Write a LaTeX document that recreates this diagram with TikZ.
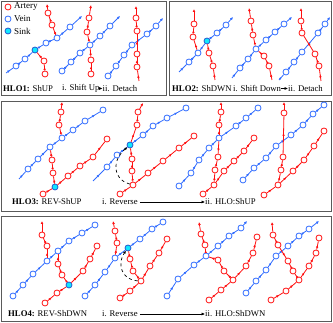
\documentclass[tikz,border=0pt]{standalone}
\usepackage{fontspec}
\setmainfont{Liberation Serif}
\usetikzlibrary{arrows.meta,positioning,decorations.markings}
\definecolor{artred}{HTML}{FF1010}
\definecolor{veinblue}{HTML}{2F6BFF}
\definecolor{sinkcyan}{HTML}{10E8FF}
\definecolor{framegray}{HTML}{5A5A5A}
\tikzset{
  an/.style={circle,draw=artred,fill=white,line width=0.8pt,inner sep=0pt,minimum size=6pt},
  vn/.style={an,draw=veinblue},
  sk/.style={an,draw=veinblue!80!black,fill=sinkcyan},
  midarrow/.style={postaction={decorate},decoration={markings,mark=at position 0.55 with {\arrow{Latex[length=2.6pt,width=2.6pt]}}}},
  alink/.style={artred,line width=0.8pt,midarrow},
  vlink/.style={veinblue,line width=0.8pt,midarrow},
  atip/.style={artred,line width=0.8pt,-{Latex[length=3pt,width=2.8pt]}},
  vtip/.style={veinblue,line width=0.8pt,-{Latex[length=3pt,width=2.8pt]}},
  revarrow/.style={black,dashed,line width=0.7pt,-{Latex[length=3pt,width=2.8pt]}},
  steparrow/.style={black,line width=0.9pt,-{Latex[length=3.5pt,width=3.2pt]}},
  lbl/.style={font=\fontsize{8.7}{10}\selectfont,inner sep=0pt,anchor=west},
  panelbox/.style={draw=framegray,line width=0.8pt}
}
% place a row of vessel nodes and join them in order
\newcommand\chain[3]{%
  \foreach \x/\y/\st [count=\k] in {#3} {\node[\st] (#1\k) at (\x,\y) {};}%
  \foreach \x/\y/\st [count=\k,remember=\k as \kk (initially 0)] in {#3} {\ifnum\k>1 \draw[#2] (#1\kk) -- (#1\k);\fi}%
}
\begin{document}
\begin{tikzpicture}[x=1pt,y=-1pt]
  \useasboundingbox (0,0) rectangle (333,323);
  \draw[panelbox] (1.5,1.5) rectangle (166,95.5);
  \draw[panelbox] (169,1.5) rectangle (331.5,95.5);
  \draw[panelbox] (1.5,101) rectangle (331.5,211.5);
  \draw[panelbox] (1.5,216.5) rectangle (331.5,321.5);

  % legend
  \node[an] (lgart) at (8,7) {};
  \node[vn] (lgvein) at (8,19) {};
  \node[sk] (lgsink) at (8,31) {};
  \node[lbl,font=\fontsize{9}{10}\selectfont,right=2.5pt of lgart] (txart) {Artery};
  \node[lbl,font=\fontsize{9}{10}\selectfont,right=2.5pt of lgvein] (txvein) {Vein};
  \node[lbl,font=\fontsize{9}{10}\selectfont,right=2.5pt of lgsink] (txsink) {Sink};

  % HLO1
  \chain{v1a-}{vlink}{6/73/coordinate,16/66/vn,25/59/vn,35/50/sk,46/43/vn,57/38/vn,70/27/vn}
  \coordinate (v1a-t) at (82,16);
  \draw[vtip] (v1a-7) -- (v1a-t);
  \chain{b1a-}{alink}{45/74/an,44/61/an}
  \draw[alink] (b1a-2) -- (v1a-4);
  \chain{a1a-}{alink}{52/25/an,48/13/an}
  \draw[alink] (v1a-6) -- (a1a-1);
  \coordinate (a1a-t) at (47,4);
  \draw[atip] (a1a-2) -- (a1a-t);

  \chain{v1b-}{vlink}{62/71/vn,71/62/vn,80/53/vn,90/45/vn,100/36/vn,110/26/vn}
  \coordinate (v1b-t) at (120,16);
  \draw[vtip] (v1b-6) -- (v1b-t);
  \chain{b1b-}{alink}{91/74/an,91/60/an}
  \draw[alink] (b1b-2) -- (v1b-4);
  \chain{a1b-}{alink}{87/32/an,89/18/an}
  \draw[alink] (v1b-4) -- (a1b-1);
  \coordinate (a1b-t) at (91,5);
  \draw[atip] (a1b-2) -- (a1b-t);

  \chain{v1c-}{vlink}{108/76/vn,116/66/vn,124/55/vn,132/45/vn,147/34/vn,156/26/vn}
  \coordinate (v1c-t) at (163,18);
  \draw[vtip] (v1c-6) -- (v1c-t);
  \chain{a1c-}{alink}{139/81/coordinate,137/67/an,137/54/an,137/31/an,136/18/an}
  \coordinate (a1c-t) at (136,6);
  \draw[atip] (a1c-5) -- (a1c-t);

  \node[lbl] (h1) at (3,88.5) {\textbf{HLO1:} ShUP};
  \node[lbl] (h1i) at (62,88.5) {i. Shift Up};
  \node[lbl] (h1ii) at (102.5,88.5) {ii. Detach};
  \draw[steparrow] (h1i) -- (h1ii);

  % HLO2
  \chain{v2a-}{vlink}{179/72/coordinate,189/62/vn,198/53/vn,207/41/sk,217/33/vn,226/25/vn}
  \coordinate (v2a-t) at (233,17);
  \draw[vtip] (v2a-6) -- (v2a-t);
  \chain{a2a-}{alink}{193/37/an,194/24/an}
  \draw[alink] (v2a-3) -- (a2a-1);
  \coordinate (a2a-t) at (194,9);
  \draw[atip] (a2a-2) -- (a2a-t);
  \chain{b2a-}{alink}{215/80/coordinate,213/66/an,209/53/an}
  \draw[alink] (b2a-3) -- (v2a-4);

  \chain{v2b-}{vlink}{232/78/coordinate,240/68/vn,248/59/vn,256/49/vn,266/40/vn,275/32/vn,284/24/vn}
  \coordinate (v2b-t) at (292,17);
  \draw[vtip] (v2b-7) -- (v2b-t);
  \chain{a2b-}{alink}{253/35/an,251/21/an}
  \draw[alink] (v2b-4) -- (a2b-1);
  \coordinate (a2b-t) at (249,8);
  \draw[atip] (a2b-2) -- (a2b-t);
  \chain{b2b-}{alink}{272/80/coordinate,269/66/an,264/56/an}
  \draw[alink] (b2b-3) -- (v2b-4);

  \chain{v2c-}{vlink}{279/80/coordinate,286/72/vn,294/62/vn,302/52/vn,318/33/vn,325/24/vn}
  \coordinate (v2c-t) at (330,17);
  \draw[vtip] (v2c-6) -- (v2c-t);
  \chain{a2c-}{alink}{321/81/coordinate,319/66/an,315/54/an,302/33/an,301/21/an}
  \coordinate (a2c-t) at (301,8);
  \draw[atip] (a2c-5) -- (a2c-t);

  \node[lbl] (h2) at (172,88.5) {\textbf{HLO2:} ShDWN};
  \node[lbl] (h2i) at (233,88.5) {i. Shift Down};
  \node[lbl] (h2ii) at (288,88.5) {ii. Detach};
  \draw[steparrow] (h2i) -- (h2ii);

  % HLO3
  \chain{v3a-}{vlink}{19/179/coordinate,28/169/vn,38/159/vn,50/147/vn,62/138/vn,73/130/vn,85/121/vn,103/110/vn}
  \chain{a3a-}{alink}{59/125/an,61/112/an}
  \draw[alink] (v3a-5) -- (a3a-1);
  \coordinate (a3a-t) at (62,102);
  \draw[atip] (a3a-2) -- (a3a-t);
  \chain{b3a-}{alink}{43/194/an,55/187/sk,68/176/an,80/166/an,93/157/an,107/139/an}
  \chain{c3a-}{alink}{53/173/an,52/160/an}
  \draw[alink] (b3a-2) -- (c3a-1);
  \draw[alink] (c3a-2) -- (v3a-4);

  \chain{v3b-}{vlink}{93/181/coordinate,107/167/vn,117/155/vn,130/145/sk,143/135/vn,153/126/vn,167/118/vn,186/108/vn}
  \chain{a3b-}{alink}{137/125/an,138/112/an}
  \draw[alink] (v3b-4) -- (a3b-1);
  \coordinate (a3b-t) at (143,103);
  \draw[atip] (a3b-2) -- (a3b-t);
  \chain{b3b-}{alink}{120/194/an,133/185/an,148/173/an,163/161/an,179/148/an,194/136/an}
  \chain{c3b-}{alink}{132/171/an,132/159/an}
  \draw[alink] (b3b-2) -- (c3b-1);
  \draw[alink] (c3b-2) -- (v3b-4);
  \draw[revarrow] (b3b-2) .. controls (112,179) and (112,160) .. (v3b-4);

  \chain{v3c-}{vlink}{179/186/vn,191/173/vn,199/160/vn,209/148/vn,219/138/vn,236/126/vn,246/118/vn,258/108/vn}
  \chain{a3c-}{alink}{219/125/an,221/112/an}
  \draw[alink] (v3c-5) -- (a3c-1);
  \coordinate (a3c-t) at (221,102);
  \draw[atip] (a3c-2) -- (a3c-t);
  \chain{b3c-}{alink}{203/194/an,214/185/an,224/171/an,234/161/an,244/151/an,254/138/an}
  \chain{c3c-}{alink}{215/170/an,218/157/an}
  \draw[alink] (b3c-2) -- (c3c-1);
  \draw[alink] (c3c-2) -- (v3c-5);

  \chain{v3d-}{vlink}{243/180/vn,254/168/vn,266/158/vn,276/146/vn,291/135/vn,303/125/vn,313/114/vn,324/105/vn}
  \chain{b3d-}{alink}{264/195/an,278/185/an,293/171/an,304/160/an,314/146/an,324/131/an}
  \chain{a3d-}{alink}{281/170/an,283/157/an,284/113/an}
  \draw[alink] (b3d-2) -- (a3d-1);
  \coordinate (a3d-t) at (284,102);
  \draw[atip] (a3d-3) -- (a3d-t);

  \node[lbl] (h3) at (12,202) {\textbf{HLO3:} REV-ShUP};
  \node[lbl] (h3i) at (102,202) {i. Reverse};
  \node[lbl] (h3ii) at (205,202) {ii. HLO:ShUP};
  \draw[steparrow,shorten <=2pt] (h3i) -- (h3ii);

  % HLO4
  \chain{v4a-}{vlink}{13/296/vn,23/285/vn,33/274/vn,47/261/vn,58/251/vn,69/241/vn,82/233/vn,95/225/vn}
  \chain{a4a-}{alink}{47/246/an,42/235/an}
  \draw[alink] (v4a-4) -- (a4a-1);
  \coordinate (a4a-t) at (42,221);
  \draw[atip] (a4a-2) -- (a4a-t);
  \chain{b4a-}{alink}{45/303/an,57/293/an,69/285/sk,83/271/an,90/259/an,97/246/an}
  \chain{c4a-}{alink}{62/275/an,58/264/an}
  \draw[alink] (b4a-3) -- (c4a-1);
  \draw[alink] (c4a-2) -- (v4a-5);

  \chain{v4b-}{vlink}{85/296/vn,95/285/vn,105/272/vn,115/258/vn,128/248/sk,140/239/vn,152/229/vn,163/222/vn}
  \chain{a4b-}{alink}{117/243/an,115/231/an}
  \draw[alink] (v4b-4) -- (a4b-1);
  \coordinate (a4b-t) at (113,221);
  \draw[atip] (a4b-2) -- (a4b-t);
  \chain{b4b-}{alink}{120/298/an,130/291/an,141/281/an,150/266/an,159/253/an,167/239/an}
  \chain{c4b-}{alink}{133/271/an,130/259/an}
  \draw[alink] (b4b-3) -- (c4b-1);
  \draw[alink] (c4b-2) -- (v4b-5);
  \draw[revarrow] (b4b-3) .. controls (121,280) and (117,263) .. (v4b-5);

  \chain{v4c-}{vlink}{167/296/vn,178/279/vn,194/265/vn,206/256/vn,218/246/vn,229/236/vn,241/228/vn}
  \coordinate (v4c-t) at (247,221);
  \draw[vtip] (v4c-7) -- (v4c-t);
  \chain{a4c-}{alink}{205/245/an,201/234/an}
  \draw[alink] (v4c-4) -- (a4c-1);
  \coordinate (a4c-t) at (199,222);
  \draw[atip] (a4c-2) -- (a4c-t);
  \chain{b4c-}{alink}{209/300/an,221/290/an,233/280/an,246/266/an,253/253/an,257/237/an}
  \chain{c4c-}{alink}{224/271/an,218/260/an}
  \draw[alink] (b4c-3) -- (c4c-1);
  \draw[alink] (c4c-2) -- (v4c-4);

  \chain{v4d-}{vlink}{246/293/vn,256/281/vn,266/270/vn,276/256/vn,288/246/vn,299/236/vn,309/229/vn}
  \coordinate (v4d-t) at (319,221);
  \draw[vtip] (v4d-7) -- (v4d-t);
  \chain{b4d-}{alink}{271/300/an,286/291/an,299/280/an,309/266/an,316/253/an,319/238/an}
  \chain{a4d-}{alink}{293/271/an,288/261/an,278/245/an,273/235/an}
  \draw[alink] (b4d-3) -- (a4d-1);
  \coordinate (a4d-t) at (272,222);
  \draw[atip] (a4d-4) -- (a4d-t);

  \node[lbl] (h4) at (8,314) {\textbf{HLO4:} REV-ShDWN};
  \node[lbl] (h4i) at (102,314) {i. Reverse};
  \node[lbl] (h4ii) at (205,314) {ii. HLO:ShDWN};
  \draw[steparrow,shorten <=2pt] (h4i) -- (h4ii);
\end{tikzpicture}
\end{document}
